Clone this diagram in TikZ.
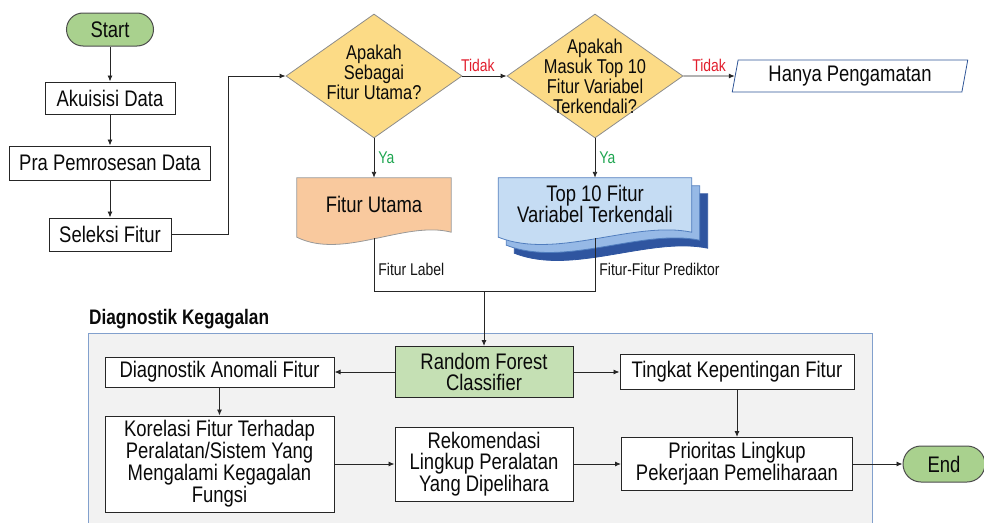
\documentclass[tikz,border=0pt]{standalone}
\usepackage{fontspec}
\setmainfont{Liberation Sans}[FakeStretch=0.82]
\usetikzlibrary{positioning,calc,backgrounds,shapes.geometric,shapes.misc,arrows.meta}
\definecolor{lineColor}{RGB}{38,38,38}
\definecolor{startGreen}{RGB}{169,209,142}
\definecolor{rfGreen}{RGB}{197,224,180}
\definecolor{decisionYellow}{RGB}{252,219,134}
\definecolor{utamaOrange}{RGB}{249,201,158}
\definecolor{topBlueA}{RGB}{197,220,243}
\definecolor{topBlueB}{RGB}{150,185,230}
\definecolor{topBlueC}{RGB}{47,85,160}
\definecolor{topBorder}{RGB}{80,125,190}
\definecolor{groupFill}{RGB}{242,242,242}
\definecolor{groupBorder}{RGB}{130,160,205}
\definecolor{tidakRed}{RGB}{225,30,45}
\definecolor{yaGreen}{RGB}{30,165,80}
\definecolor{paraBorder}{RGB}{47,85,151}
\tikzstyle{diagram} = [x=1pt, y=-1pt]
\tikzstyle{mainText} = [font=\fontsize{22.5}{20.5}\selectfont, text=black!96, align=center]
\tikzstyle{processBox} = [mainText, rectangle, draw=black!85, line width=1pt, fill=white, inner sep=0pt]
\tikzstyle{terminal} = [mainText, rounded rectangle, draw=black!70, line width=1pt, fill=startGreen, inner sep=0pt]
\tikzstyle{decision} = [diamond, draw=black!45, line width=0.8pt, fill=decisionYellow, inner sep=0pt, minimum width=176pt, minimum height=124pt]
\tikzstyle{decisionText} = [font=\fontsize{20}{20}\selectfont, text=black!96, align=center]
\tikzstyle{docText} = [mainText, inner sep=0pt, minimum height=52pt]
\tikzstyle{utamaDoc} = [fill=utamaOrange, draw=black!40, line width=0.8pt]
\tikzstyle{topDocA} = [fill=topBlueA, draw=topBorder, line width=0.8pt]
\tikzstyle{topDocB} = [fill=topBlueB, draw=topBorder, line width=0.8pt]
\tikzstyle{topDocC} = [fill=topBlueC, draw=topBlueC, line width=0.8pt]
\tikzstyle{groupBox} = [fill=groupFill, draw=groupBorder, line width=1pt]
\tikzstyle{groupTitle} = [font=\bfseries\fontsize{21}{21}\selectfont, text=black!96, inner sep=0pt]
\tikzstyle{flowLine} = [draw=lineColor, line width=0.9pt]
\tikzstyle{flowArrow} = [flowLine, -{Latex[length=6pt,width=5pt]}]
\tikzstyle{smallLabel} = [font=\fontsize{17}{17}\selectfont, text=black!92, inner sep=4pt]
\tikzstyle{yaLabel} = [smallLabel, text=yaGreen]
\tikzstyle{tidakLabel} = [smallLabel, text=tidakRed]
\newcommand{\docShape}[4]{\filldraw [#2] ([shift={(#3,#4)}]#1.north west) -- ([shift={(#3,#4)}]#1.north east) -- ([shift={(#3,#4)},yshift=-2pt]#1.south east) .. controls ($(#1.south west)!0.7!(#1.south east)+(#3,#4)+(0,10pt)$) and ($(#1.south west)!0.3!(#1.south east)+(#3,#4)+(0,-30pt)$) .. ([shift={(#3,#4)},yshift=-7pt]#1.south west) -- cycle;}

\begin{document}
\begin{tikzpicture}[diagram]
  \useasboundingbox (0,0) rectangle (984,522);
  \filldraw [groupBox] (88,333) rectangle (872,530);
  \node [groupTitle, anchor=west] (diagTitle) at (89,319) {Diagnostik Kegagalan};

  \node [terminal, minimum width=87pt, minimum height=33pt] (start) at (110,29.5) {Start};
  \node [processBox, minimum width=130pt, minimum height=32pt] (akuisisi) at (110,98) {Akuisisi Data};
  \node [processBox, minimum width=201pt, minimum height=34pt] (pra) at (110,163) {Pra Pemrosesan Data};
  \node [processBox, minimum width=122pt, minimum height=33pt] (seleksi) at (110,234.5) {Seleksi Fitur};

  \node [decision, label={[decisionText, yshift=4pt]center:{Apakah\\Sebagai\\Fitur Utama?}}] (qUtama) at (374,76) {};
  \node [decision, label={[decisionText]center:{Apakah\\Masuk Top 10\\Fitur Variabel\\Terkendali?}}] (qTop) at (595,76) {};
  \node [processBox, trapezium, trapezium left angle=78, trapezium right angle=102, trapezium stretches=true, draw=paraBorder, line width=0.8pt, minimum width=236pt, minimum height=32pt] (hanya) at (850,76) {Hanya Pengamatan};

  \node [docText, minimum width=154pt] (utama) at (374,204) {Fitur Utama};
  \node [docText, minimum width=193pt, font=\fontsize{22.5}{21}\selectfont] (topTen) at (595,204) {Top 10 Fitur\\Variabel Terkendali};
  \begin{scope}[on background layer]
    \docShape{utama}{utamaDoc}{0pt}{0pt}
    \docShape{topTen}{topDocC}{16pt}{-16pt}
    \docShape{topTen}{topDocB}{8pt}{-8pt}
    \docShape{topTen}{topDocA}{0pt}{0pt}
  \end{scope}

  \node [processBox, fill=rfGreen, minimum width=178pt, minimum height=51pt, font=\fontsize{22.5}{21}\selectfont] (rf) at (484,372) {Random Forest\\Classifier};
  \node [processBox, minimum width=229pt, minimum height=30pt] (anomali) at (219.5,372) {Diagnostik Anomali Fitur};
  \node [processBox, minimum width=229pt, minimum height=96pt] (korelasi) at (219.5,464) {Korelasi Fitur Terhadap\\Peralatan/Sistem Yang\\Mengalami Kegagalan\\Fungsi};
  \node [processBox, minimum width=178pt, minimum height=74pt] (rekomendasi) at (484,464) {Rekomendasi\\Lingkup Peralatan\\Yang Dipelihara};
  \node [processBox, minimum width=234pt, minimum height=35pt] (tingkat) at (737,372) {Tingkat Kepentingan Fitur};
  \node [processBox, minimum width=231pt, minimum height=53pt] (prioritas) at (737,464) {Prioritas Lingkup\\Pekerjaan Pemeliharaan};
  \node [terminal, minimum width=82pt, minimum height=36pt] (finish) at (944,464) {End};

  \draw [flowArrow] (start) -- (akuisisi);
  \draw [flowArrow] (akuisisi) -- (pra);
  \draw [flowArrow] (pra) -- (seleksi);
  \draw [flowArrow] (seleksi.east) -- ++(57,0) |- (qUtama.west);
  \draw [flowArrow] (qUtama.east) -- node [tidakLabel, above, pos=0.35] (tidakOne) {Tidak} (qTop.west);
  \draw [flowArrow] (qTop.east) -- node [tidakLabel, above] (tidakTwo) {Tidak} (hanya.west);
  \draw [flowArrow] (qUtama.south) -- node [yaLabel, right] (yaOne) {Ya} (utama.north);
  \draw [flowArrow] (qTop.south) -- node [yaLabel, right] (yaTwo) {Ya} (topTen.north);
  \coordinate (merge) at (484,291);
  \draw [flowLine] ([yshift=-8pt]utama.south) -- node [smallLabel, right, pos=0.6] (labelFitur) {Fitur Label} (utama.south |- merge) -- (merge);
  \draw [flowLine] ([yshift=-8pt]topTen.south) -- node [smallLabel, right, pos=0.6] (labelPrediktor) {Fitur-Fitur Prediktor} (topTen.south |- merge) -- (merge);
  \draw [flowArrow] (merge) -- (rf.north);
  \draw [flowArrow] (rf) -- (anomali);
  \draw [flowArrow] (anomali) -- (korelasi);
  \draw [flowArrow] (korelasi) -- (rekomendasi);
  \draw [flowArrow] (rf) -- (tingkat);
  \draw [flowArrow] (tingkat) -- (prioritas);
  \draw [flowArrow] (rekomendasi) -- (prioritas);
  \draw [flowArrow] (prioritas) -- (finish);
\end{tikzpicture}
\end{document}
